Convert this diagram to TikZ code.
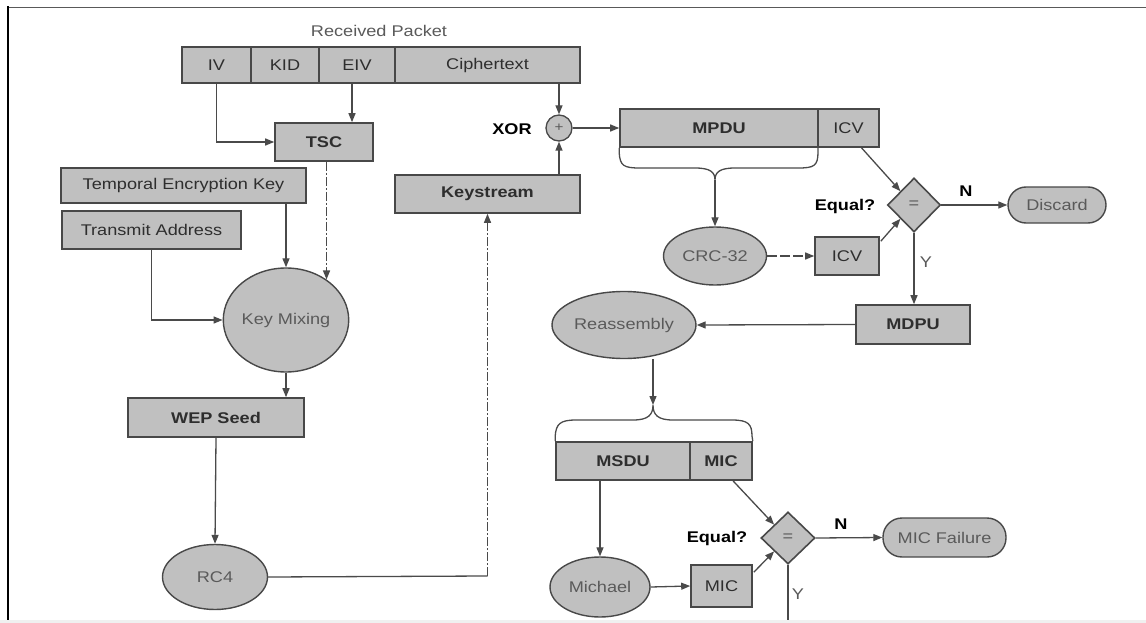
\documentclass[tikz,border=0pt]{standalone}
\usepackage{fontspec}
\setmainfont{Liberation Sans}[FakeStretch=1.17]
\usetikzlibrary{shapes.geometric,arrows.meta,calc}

\definecolor{boxfill}{HTML}{C0C0C0}
\definecolor{edge}{HTML}{484848}
\definecolor{ink}{HTML}{2E2E2E}
\definecolor{softink}{HTML}{5A5A5A}
\definecolor{wire}{HTML}{4A4A4A}

\begin{document}
\begin{tikzpicture}[x=1pt,y=-1pt,
  every node/.style={font=\fontsize{15.5}{18}\selectfont, inner sep=0pt},
  blk/.style={draw=edge, fill=boxfill, line width=1.6pt, text=ink, minimum height=38pt},
  strong/.style={font=\fontsize{15.5}{18}\selectfont\bfseries},
  oval/.style={ellipse, draw=edge, fill=boxfill, line width=1.4pt, text=softink},
  pill/.style={draw=edge, fill=boxfill, line width=1.4pt, text=softink, rounded corners=18pt},
  test/.style={diamond, draw=edge, fill=boxfill, line width=1.6pt, text=softink,
               minimum width=53pt, minimum height=54pt},
  tag/.style={font=\fontsize{15.5}{18}\selectfont\bfseries, text=black},
  wirestyle/.style={draw=wire, line width=1.3pt},
  flow/.style={wirestyle, -{Triangle[length=9pt,width=7pt]}},
  faint/.style={dash pattern=on 9pt off 2pt on 2pt off 2pt},
  brace/.style={draw=wire, line width=1.3pt}
]
\useasboundingbox (0,0) rectangle (1146,623);
\fill[white] (0,0) rectangle (1146,623);
\fill[black!6] (0,620) rectangle (1146,623);
\draw[line width=1.3pt, black!65] (7,7.5) -- (1146,7.5);
\draw[line width=2.2pt, black] (8,6.5) -- (8,620);

% received packet
\node[text=softink] (rp) at (379,31) {Received Packet};
\node[blk, minimum width=69pt, minimum height=36pt] (iv) at (216.5,65) {IV};
\node[blk, minimum width=68pt, minimum height=36pt] (kid) at (285,65) {KID};
\node[blk, minimum width=76pt, minimum height=36pt] (eiv) at (357,65) {EIV};
\node[blk, minimum width=185pt, minimum height=36pt] (ct) at (487.5,65) {Ciphertext};
\coordinate (eivx) at (352,0);

% key mixing side
\node[blk, strong, minimum width=98pt] (tsc) at (324,142) {TSC};
\node[blk, minimum width=245pt, minimum height=35pt] (tek) at (183.5,185.5) {Temporal Encryption Key};
\node[blk, minimum width=179pt] (ta) at (151.5,230) {Transmit Address};
\node[oval, minimum width=106pt, minimum height=104pt] (km) at (286,320) {Key Mixing};
\node[blk, strong, minimum width=176pt, minimum height=39pt] (wep) at (216,417.5) {WEP Seed};
\node[oval, minimum width=105pt, minimum height=65pt] (rc4) at (215,577) {RC4};
\node[blk, strong, minimum width=185pt] (ks) at (487.5,194) {Keystream};
\coordinate (rcturn) at (487.5,576);

% XOR
\node[circle, draw=edge, fill=boxfill, line width=1.3pt, minimum size=26pt, text=softink,
      font=\fontsize{13}{14}\selectfont] (xor) at (559,128) {+};
\node[tag] (xorlbl) at (512,129) {XOR};

% ICV check
\node[blk, strong, minimum width=198pt] (mpdu) at (719,128) {MPDU};
\node[blk, minimum width=61pt] (icv) at (848.5,128) {ICV};
\node[oval, minimum width=103pt, minimum height=58pt] (crc) at (715,256) {CRC-32};
\node[blk, minimum width=64pt] (icv2) at (847,256) {ICV};
\node[test] (d1) at (914,205) {=};
\node[tag] (eq1) at (845,206) {Equal?};
\node[pill, minimum width=98pt, minimum height=36pt] (discard) at (1057,205) {Discard};
\node[tag] (n1) at (966,191) {N};
\node[text=softink] (y1) at (926,262) {Y};
\node[blk, strong, minimum width=114pt, minimum height=39pt] (mdpu) at (913,324.5) {MDPU};
\node[oval, minimum width=144pt, minimum height=67pt] (reas) at (624,325) {Reassembly};
\coordinate (tipA) at (715,180);
\coordinate (tipB) at (653,405);

% MIC check
\node[blk, strong, minimum width=134pt] (msdu) at (623,461) {MSDU};
\node[blk, strong, minimum width=62pt] (mic) at (721,461) {MIC};
\node[oval, minimum width=100pt, minimum height=60pt] (mich) at (600,587) {Michael};
\node[blk, minimum width=61pt, minimum height=42pt] (mic2) at (721.5,586) {MIC};
\node[test, minimum width=54pt, minimum height=52pt] (d2) at (788,538) {=};
\node[tag] (eq2) at (717,538) {Equal?};
\node[pill, minimum width=123pt, minimum height=39pt, rounded corners=19pt] (micf) at (944.5,537.5) {MIC Failure};
\node[tag] (n2) at (841,524) {N};
\node[text=softink] (y2) at (798,594) {Y};
\coordinate (ybottom) at (788,620);

% connectors: key derivation
\draw[flow] (iv.south) -- (iv.south |- tsc.west) -- (tsc.west);
\draw[flow] (eiv.south -| eivx) -- (eivx |- tsc.north);
\draw[flow, faint] (km.45 |- tsc.south) -- (km.45);
\draw[flow] (km.north |- tek.south) -- (km.north);
\draw[flow] (ta.south) -- (ta.south |- km.west) -- (km.west);
\draw[flow] (km.south) -- (km.south |- wep.north);
\draw[flow] (wep.south) -- (rc4.north);
\draw[wirestyle] (rc4.east) -- (rcturn);
\draw[flow, faint] (rcturn) -- (ks.south -| rcturn);
\draw[flow] (xor |- ct.south) -- (xor.north);
\draw[flow] (xor |- ks.north) -- (xor.south);
\draw[flow] (xor.east) -- (mpdu.west);

% brace under MPDU
\draw[brace] (mpdu.south west) -- ++(0,5) .. controls (620,166) and (624,168) .. (640,168)
  -- (695,168) .. controls (710,168) and (715,172) .. (tipA)
  .. controls (715,172) and (720,168) .. (735,168) -- (798,168)
  .. controls (814,168) and (818,166) .. (818,152) -- (818,147);
\draw[flow] (tipA) -- (crc.north);
\draw[flow, dash pattern=on 10pt off 3pt] (crc.east) -- (icv2.west);
\draw[flow] ($(icv.south)+(13,0)$) -- (d1.north west);
\draw[flow] ($(icv2.north east)+(1,5)$) -- (d1.south west);
\draw[flow] (d1.east) -- (discard.west);
\draw[flow] (d1.south) -- (d1.south |- mdpu.north);
\draw[flow] (mdpu.west) -- (reas.east);
\draw[flow] (reas.south -| tipB) -- (tipB);

% brace above MSDU/MIC
\draw[brace] (msdu.north west) -- ++(0,-5) .. controls (556,424) and (560,420) .. (576,420)
  -- (633,420) .. controls (648,420) and (653,415) .. (tipB)
  .. controls (653,415) and (658,420) .. (673,420) -- (732,420)
  .. controls (748,420) and (752,424) .. (752,436) -- (mic.north east);
\draw[flow] (mich.north |- msdu.south) -- (mich.north);
\draw[flow] (mich.east) -- (mic2.west);
\draw[flow] ($(mic.south)+(12,0)$) -- (d2.north west);
\draw[flow] ($(mic2.north east)+(1,8)$) -- (d2.south west);
\draw[flow] (d2.east) -- (micf.west);
\draw[wirestyle] (d2.south) -- (ybottom);
\end{tikzpicture}
\end{document}
